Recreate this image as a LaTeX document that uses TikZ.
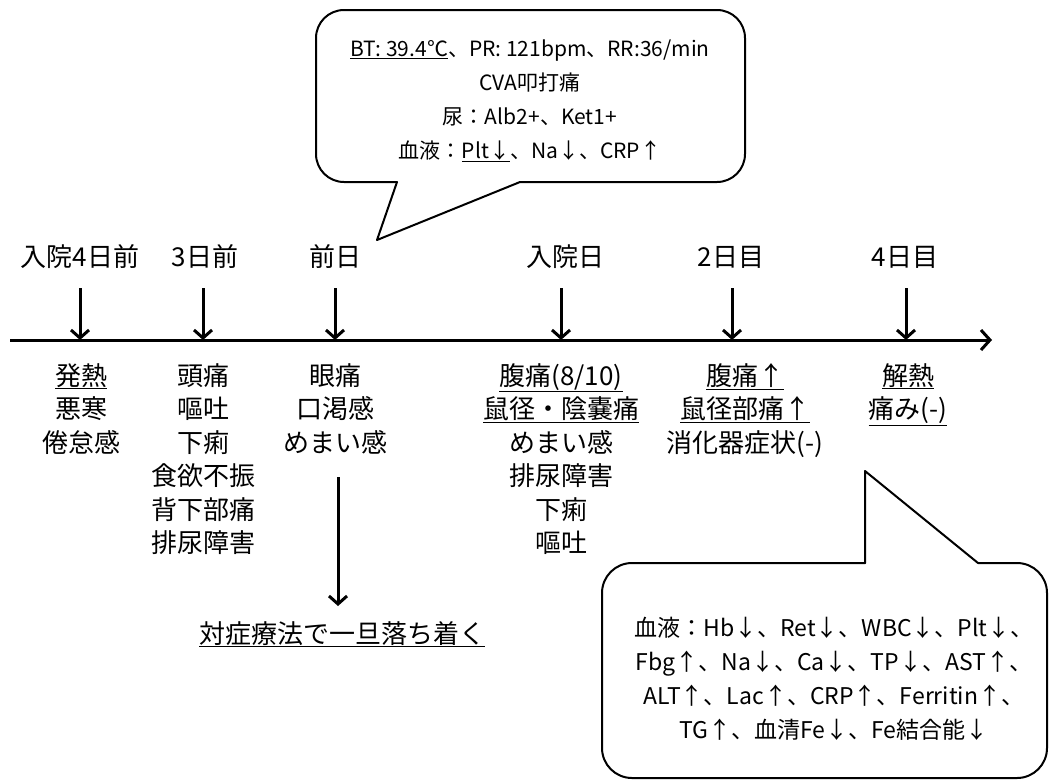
\documentclass[tikz,border=0pt]{standalone}
\usepackage{fontspec}
\setmainfont{Noto Sans CJK JP}
\usetikzlibrary{arrows.meta}

\tikzset{
  daylbl/.style={anchor=base, font=\fontsize{26}{26}\selectfont},
  symlist/.style={anchor=north, align=center, font=\fontsize{26}{33.5}\selectfont},
  boxtext/.style={align=center, font=\fontsize{21}{34}\selectfont},
  tick/.style={line width=3pt, -{Straight Barb[length=8pt,width=18pt]}},
  bubble/.style={line width=2pt, line cap=round, line join=round}
}

\begin{document}
\begin{tikzpicture}[x=1pt, y=-1pt, every node/.style={inner sep=0pt}]
            \useasboundingbox (0,0) rectangle (1049,780);
            % time axis
            \coordinate (axstart) at (10,340);
            \coordinate (axend) at (992,340);
            \draw[line width=3pt, -{Straight Barb[length=9pt,width=20pt]}]
                (axstart) -- (axend);
            % days
            \node[daylbl] (day1) at (80,266) {入院4日前};
            \node[daylbl] (day2) at (205,266) {3日前};
            \node[daylbl] (day3) at (335,266) {前日};
            \node[daylbl] (day4) at (565,266) {入院日};
            \node[daylbl] (day5) at (731,266) {2日目};
            \node[daylbl] (day6) at (905,266) {4日目};
            \coordinate (top1) at (80,288);   \coordinate (hit1) at (80,340);
            \coordinate (top2) at (203,288);  \coordinate (hit2) at (203,340);
            \coordinate (top3) at (335,288);  \coordinate (hit3) at (335,340);
            \coordinate (top4) at (561,288);  \coordinate (hit4) at (561,340);
            \coordinate (top5) at (732,288);  \coordinate (hit5) at (732,340);
            \coordinate (top6) at (906,288);  \coordinate (hit6) at (906,340);
            \draw[tick] (top1) -- (hit1);
            \draw[tick] (top2) -- (hit2);
            \draw[tick] (top3) -- (hit3);
            \draw[tick] (top4) -- (hit4);
            \draw[tick] (top5) -- (hit5);
            \draw[tick] (top6) -- (hit6);
            % symptoms
            \node[symlist] (sym1) at (81,363) {\underline{発熱}\\悪寒\\倦怠感};
            \node[symlist] (sym2) at (203,363) {頭痛\\嘔吐\\下痢\\食欲不振\\背下部痛\\排尿障害};
            \node[symlist] (sym3) at (335,363) {眼痛\\口渇感\\めまい感};
            \node[symlist] (sym4) at (561,363)
                {\underline{腹痛(8/10)}\\\underline{鼠径・陰嚢痛}\\めまい感\\排尿障害\\下痢\\嘔吐};
            \node[symlist] (sym5) at (745,363)
                {\underline{腹痛↑}\\\underline{鼠径部痛↑}\\消化器症状(-)};
            \node[symlist] (sym6) at (908,363) {\underline{解熱}\\\underline{痛み(-)}};
            % settled
            \coordinate (rest1) at (338,477);
            \coordinate (rest2) at (338,606);
            \draw[tick] (rest1) -- (rest2);
            \node[anchor=base, font=\fontsize{26}{26}\selectfont] (calm) at (342,643)
                {\underline{対症療法で一旦落ち着く}};
            % admission callout
            \coordinate (tail1) at (377,240);
            \draw[bubble, rounded corners=28pt]
                (397,182) -- (316,182) -- (316,10) -- (745,10) -- (745,182) -- (520,182);
            \draw[bubble] (397,182) -- (tail1) -- (520,182);
            \node[boxtext] (vitals) at (530,101)
                {\underline{BT: 39.4℃}、PR: 121bpm、RR:36/min\\CVA叩打痛\\尿：Alb2+、Ket1+\\血液：\underline{Plt↓}、Na↓、CRP↑};
            % day 2 callout
            \coordinate (tail2) at (865,471);
            \draw[bubble, rounded corners=30pt]
                (865,563) -- (602,563) -- (602,778) -- (1047,778) -- (1047,563) -- (978,563);
            \draw[bubble] (865,563) -- (tail2) -- (978,563);
            \node[boxtext, font=\fontsize{23}{34}\selectfont] (labs) at (834,679)
                {血液：Hb↓、Ret↓、WBC↓、Plt↓、\\Fbg↑、Na↓、Ca↓、TP↓、AST↑、\\ALT↑、Lac↑、CRP↑、Ferritin↑、\\TG↑、血清Fe↓、Fe結合能↓};
        \end{tikzpicture}
\end{document}
